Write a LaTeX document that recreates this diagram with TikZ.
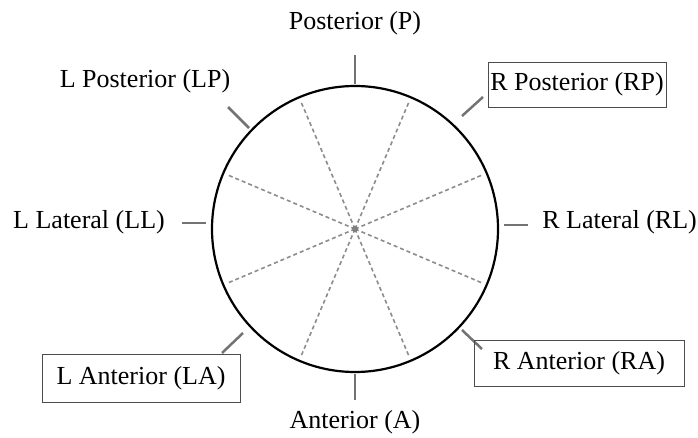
\documentclass[tikz,border=0pt]{standalone}
\usepackage{fontspec}
\setmainfont{Liberation Serif}
\usetikzlibrary{calc}
\begin{document}
\begin{tikzpicture}[x=1pt,y=-1pt,
  lbl/.style={inner sep=0pt,font=\fontsize{26}{30}\selectfont},
  boxlbl/.style={lbl,draw=black!70,line width=0.8pt,inner sep=0pt},
  tick/.style={draw=black!55,line width=2.5pt},
  spoke/.style={draw=black!45,line width=1.6pt,dash pattern=on 4pt off 3pt},
  rim/.style={draw=black,line width=2.2pt}]
\useasboundingbox (0,0) rectangle (698,438);
\coordinate (c) at (355,229);
% spokes
\foreach \a/\n in {23/s1,67/s2,113/s3,157/s4,203/s5,247/s6,293/s7,337/s8}{
  \coordinate (\n) at ($(c)+(\a:139)$);
}
\foreach \n in {s1,s2,s3,s4,s5,s6,s7,s8}{ \draw[spoke] (c) -- (\n); }
\fill[black!50] (c) circle (3pt);
\node[rim,circle,minimum size=286pt,inner sep=0pt] (rim) at (c) {};
% tick coordinates
\coordinate (pa) at (355,55);  \coordinate (pb) at (355,84);
\coordinate (lpa) at (228,107); \coordinate (lpb) at (249,128);
\coordinate (rpa) at (483,97); \coordinate (rpb) at (462,116);
\coordinate (lla) at (182,223); \coordinate (llb) at (206,223);
\coordinate (rla) at (528,225); \coordinate (rlb) at (504,225);
\coordinate (laa) at (222,353); \coordinate (lab) at (243,333);
\coordinate (raa) at (482,349); \coordinate (rab) at (462,330);
\coordinate (aa) at (355,400); \coordinate (ab) at (355,374);
\foreach \u/\v in {pa/pb,lpa/lpb,rpa/rpb,lla/llb,rla/rlb,laa/lab,raa/rab,aa/ab}{ \draw[tick] (\u) -- (\v); }
% labels
\node[lbl,anchor=base] (P) at (355,30) {Posterior (P)};
\node[lbl,anchor=base] (LP) at (145,88) {L Posterior (LP)};
\node[boxlbl,minimum width=178pt,minimum height=45pt] (RP) at (577,84.5) {R Posterior (RP)};
\node[lbl,anchor=base west] (LL) at (13,229) {L Lateral (LL)};
\node[lbl,anchor=base east] (RL) at (697,229) {R Lateral (RL)};
\node[boxlbl,minimum width=198pt,minimum height=48pt] (LA) at (141,378) {L Anterior (LA)};
\node[boxlbl,minimum width=210pt,minimum height=46pt] (RA) at (579,363) {R Anterior (RA)};
\node[lbl,anchor=base] (A) at (355,428) {Anterior (A)};
\end{tikzpicture}
\end{document}
